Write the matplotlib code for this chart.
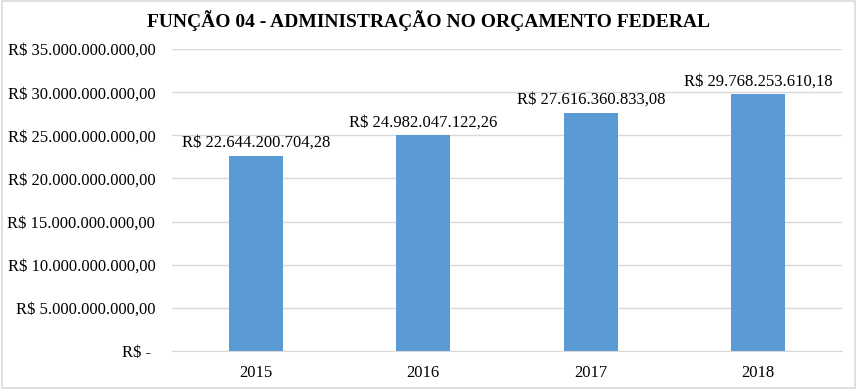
import matplotlib.pyplot as plt
from matplotlib.ticker import FuncFormatter, MultipleLocator
from matplotlib.patches import Rectangle

anos = ['2015', '2016', '2017', '2018']
valores = [22644200704.28, 24982047122.26, 27616360833.08, 29768253610.18]
rotulos = ['R$ 22.644.200.704,28', 'R$ 24.982.047.122,26',
           'R$ 27.616.360.833,08', 'R$ 29.768.253.610,18']

plt.rcParams['font.family'] = 'Liberation Serif'


def moeda(v, pos):
    if v == 0:
        return 'R$ - '
    s = '{:,.2f}'.format(v)
    s = s.replace(',', 'X').replace('.', ',').replace('X', '.')
    return 'R$ ' + s


fig = plt.figure(figsize=(8.57, 3.89), dpi=100)
ax = fig.add_axes([0.2007, 0.0977, 0.7818, 0.7763])

x = range(len(anos))
ax.bar(x, valores, width=0.32, color='#5B9BD5', zorder=3)
for i, v in enumerate(valores):
    ax.annotate(rotulos[i], (i, v), xytext=(0, 3.5), textcoords='offset points',
                ha='center', va='bottom', fontsize=12, color='#000000')

ax.set_xlim(-0.5, 3.5)
ax.set_ylim(0, 35e9)
ax.yaxis.set_major_locator(MultipleLocator(5e9))
ax.yaxis.set_major_formatter(FuncFormatter(moeda))
ax.set_xticks(list(x))
ax.set_xticklabels(anos)
ax.tick_params(axis='both', length=0, labelsize=12, colors='#000000')
ax.tick_params(axis='y', pad=12)
ax.tick_params(axis='x', pad=10)
ax.grid(axis='y', color='#D9D9D9', linewidth=1, zorder=0)
for s in ['top', 'right', 'left']:
    ax.spines[s].set_visible(False)
ax.spines['bottom'].set_color('#D9D9D9')

fig.text(0.5, 0.948, 'FUNÇÃO 04 - ADMINISTRAÇÃO NO ORÇAMENTO FEDERAL',
         ha='center', va='center', fontsize=14, fontweight='bold')

fig.patches.append(Rectangle((0.002, 0.003), 0.996, 0.994, transform=fig.transFigure,
                             fill=False, edgecolor='#D9D9D9', linewidth=1.2))

fig.savefig('out.png', dpi=100)
